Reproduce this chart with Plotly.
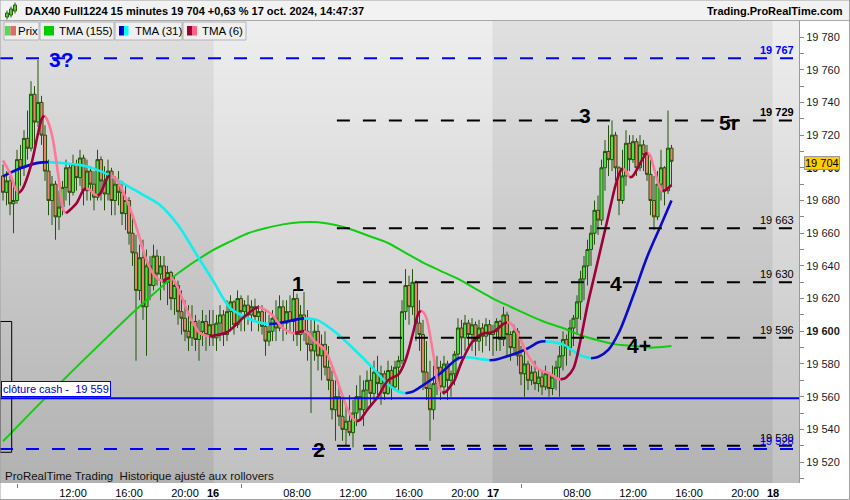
import plotly.graph_objects as go

# ---------------- data ----------------
# x = index of the 15-minute bar; 0 = first bar of 16 Oct (02:00), 80 bars per session (02:00-22:00)
bar_index = list(range(-60, 132))

opens = [
    19695, 19685, 19692, 19678, 19680, 19705, 19700, 19718, 19712, 19745,
    19728, 19740, 19720, 19698, 19680, 19690, 19670, 19676, 19688, 19700,
    19685, 19702, 19694, 19706, 19686, 19698, 19690, 19682, 19705, 19692,
    19684, 19698, 19680, 19690, 19685, 19672, 19680, 19660, 19648, 19625,
    19645, 19615, 19640, 19628, 19646, 19635, 19640, 19630, 19636, 19620,
    19628, 19612, 19608, 19600, 19596, 19606, 19595, 19600, 19606, 19598,
    19604, 19596, 19605, 19610, 19598, 19612, 19618, 19604, 19620, 19612,
    19616, 19610, 19615, 19609, 19612, 19603, 19594, 19600, 19608, 19602,
    19615, 19605, 19612, 19606, 19620, 19598, 19610, 19600, 19592, 19588,
    19600, 19585, 19592, 19578, 19570, 19552, 19560, 19548, 19540, 19545,
    19538, 19550, 19560, 19552, 19564, 19570, 19562, 19575, 19568, 19574,
    19562, 19576, 19566, 19578, 19582, 19612, 19628, 19615, 19630, 19605,
    19598, 19575, 19565, 19552, 19568, 19578, 19566, 19580, 19570, 19574,
    19586, 19602, 19596, 19605, 19598, 19604, 19594, 19602, 19597, 19604,
    19598, 19600, 19606, 19595, 19610, 19598, 19590, 19600, 19585, 19574,
    19580, 19570, 19575, 19568, 19572, 19566, 19574, 19565, 19572, 19578,
    19585, 19595, 19590, 19602, 19608, 19618, 19632, 19640, 19650, 19660,
    19674, 19668, 19700, 19710, 19705, 19720, 19700, 19680, 19695, 19715,
    19705, 19716, 19700, 19714, 19708, 19696, 19680, 19670, 19690, 19700,
    19686, 19712,
]
highs = [
    19702, 19698, 19695, 19689, 19711, 19714, 19723, 19735, 19753, 19750,
    19766, 19744, 19726, 19705, 19695, 19692, 19686, 19692, 19705, 19703,
    19708, 19705, 19711, 19708, 19705, 19701, 19698, 19711, 19707, 19701,
    19705, 19700, 19695, 19698, 19692, 19689, 19682, 19671, 19659, 19653,
    19656, 19650, 19646, 19653, 19650, 19646, 19646, 19640, 19637, 19634,
    19631, 19625, 19619, 19616, 19616, 19610, 19607, 19613, 19610, 19613,
    19613, 19610, 19616, 19613, 19619, 19622, 19619, 19625, 19622, 19619,
    19622, 19619, 19620, 19616, 19616, 19613, 19610, 19613, 19619, 19622,
    19619, 19619, 19622, 19625, 19623, 19616, 19624, 19613, 19607, 19607,
    19604, 19598, 19600, 19591, 19576, 19570, 19567, 19561, 19555, 19561,
    19558, 19567, 19573, 19570, 19576, 19579, 19582, 19585, 19579, 19576,
    19582, 19579, 19582, 19585, 19619, 19638, 19634, 19638, 19631, 19619,
    19607, 19594, 19582, 19579, 19585, 19582, 19585, 19582, 19576, 19588,
    19608, 19607, 19610, 19607, 19608, 19606, 19607, 19605, 19608, 19607,
    19604, 19608, 19607, 19615, 19612, 19600, 19604, 19602, 19591, 19588,
    19582, 19579, 19582, 19577, 19576, 19579, 19575, 19579, 19582, 19591,
    19600, 19598, 19607, 19610, 19622, 19637, 19646, 19656, 19665, 19680,
    19683, 19705, 19717, 19726, 19729, 19722, 19701, 19711, 19723, 19720,
    19720, 19718, 19720, 19717, 19714, 19705, 19695, 19698, 19711, 19701,
    19735, 19714,
]
lows = [
    19680, 19677, 19671, 19660, 19678, 19689, 19695, 19705, 19710, 19711,
    19725, 19714, 19692, 19671, 19665, 19656, 19662, 19671, 19680, 19677,
    19683, 19686, 19689, 19677, 19680, 19680, 19674, 19680, 19680, 19674,
    19680, 19671, 19671, 19677, 19665, 19662, 19653, 19640, 19582, 19619,
    19607, 19585, 19619, 19625, 19628, 19619, 19625, 19616, 19613, 19610,
    19604, 19598, 19594, 19588, 19591, 19588, 19582, 19591, 19588, 19591,
    19591, 19588, 19594, 19591, 19594, 19600, 19598, 19602, 19600, 19600,
    19604, 19600, 19607, 19600, 19598, 19585, 19591, 19594, 19594, 19600,
    19594, 19598, 19600, 19594, 19591, 19588, 19594, 19582, 19550, 19582,
    19576, 19570, 19573, 19564, 19546, 19533, 19542, 19533, 19530, 19536,
    19529, 19542, 19546, 19542, 19552, 19555, 19558, 19561, 19555, 19558,
    19561, 19558, 19564, 19564, 19580, 19607, 19604, 19610, 19594, 19588,
    19564, 19558, 19533, 19546, 19561, 19558, 19561, 19558, 19560, 19567,
    19582, 19585, 19588, 19591, 19588, 19585, 19588, 19587, 19591, 19588,
    19585, 19588, 19588, 19591, 19585, 19582, 19585, 19579, 19567, 19560,
    19564, 19567, 19564, 19563, 19561, 19564, 19560, 19561, 19564, 19560,
    19576, 19579, 19585, 19591, 19598, 19607, 19619, 19628, 19640, 19653,
    19659, 19665, 19686, 19695, 19698, 19692, 19671, 19678, 19689, 19698,
    19703, 19695, 19698, 19698, 19692, 19671, 19662, 19668, 19680, 19677,
    19684, 19689,
]
closes = [
    19685, 19692, 19678, 19680, 19705, 19700, 19718, 19712, 19745, 19728,
    19740, 19720, 19698, 19680, 19690, 19670, 19676, 19688, 19700, 19685,
    19702, 19694, 19706, 19686, 19698, 19690, 19682, 19705, 19692, 19684,
    19698, 19680, 19690, 19685, 19672, 19680, 19660, 19648, 19625, 19645,
    19615, 19640, 19628, 19646, 19635, 19640, 19630, 19636, 19620, 19628,
    19612, 19608, 19600, 19596, 19606, 19595, 19600, 19606, 19598, 19604,
    19596, 19605, 19610, 19598, 19612, 19618, 19604, 19620, 19612, 19616,
    19610, 19615, 19609, 19612, 19603, 19594, 19600, 19608, 19602, 19615,
    19605, 19612, 19606, 19620, 19598, 19610, 19600, 19592, 19588, 19600,
    19585, 19592, 19578, 19570, 19552, 19560, 19548, 19540, 19545, 19538,
    19550, 19560, 19552, 19564, 19570, 19562, 19575, 19568, 19574, 19562,
    19576, 19566, 19578, 19582, 19612, 19628, 19615, 19630, 19605, 19598,
    19575, 19565, 19552, 19568, 19578, 19566, 19580, 19570, 19574, 19586,
    19602, 19596, 19605, 19598, 19604, 19594, 19602, 19597, 19604, 19598,
    19600, 19606, 19595, 19610, 19598, 19590, 19600, 19585, 19574, 19580,
    19570, 19575, 19568, 19572, 19566, 19574, 19565, 19572, 19578, 19585,
    19595, 19590, 19602, 19608, 19618, 19632, 19640, 19650, 19660, 19674,
    19668, 19700, 19710, 19705, 19720, 19700, 19680, 19695, 19715, 19705,
    19716, 19700, 19714, 19708, 19696, 19680, 19670, 19690, 19700, 19686,
    19712, 19704,
]

# moving averages (bar index, value)
tma155_x = [-60, -50, -40, -30, -20, -10, 0, 5, 10, 15, 20, 25, 30, 35, 40, 45, 50, 55,
            60, 65, 70, 75, 80, 85, 90, 95, 100, 105, 110, 115, 120, 125, 131]
tma155_y = [19532.7, 19554.7, 19576.1, 19596.9, 19617.1, 19635.5, 19649.6, 19655, 19660,
            19663, 19665.4, 19666.7, 19666.7, 19665, 19662, 19658, 19654, 19648, 19642,
            19637, 19632, 19626, 19620, 19615, 19610, 19605.5, 19602, 19597.6, 19594.5,
            19592, 19591, 19590, 19591]

tma31_x = [-60, -55, -50, -47, -44, -40, -36, -32, -28, -24, -20, -15, -10, -5, 0, 5, 10, 12,
           14, 16, 18, 20, 24, 26, 28, 30, 35, 40, 45, 50, 53, 55, 57, 60, 65, 70, 72, 74,
           77, 79, 81, 85, 90, 93, 95, 97, 100, 105, 108, 110, 113, 116, 120, 124, 128, 131]
tma31_y = [19694.8, 19699.7, 19703.0, 19703.5, 19703.1, 19702.2, 19700.8, 19697.8, 19693.5,
           19688.4, 19683.5, 19677, 19665, 19648, 19631, 19614, 19608, 19606.2, 19605.0,
           19604.4, 19604.8, 19605.5, 19607.3, 19607.9, 19607.6, 19606.7, 19599.4, 19589.6,
           19579, 19567.6, 19563.2, 19562.1, 19563.0, 19567, 19574.3, 19583.4, 19584.1,
           19583.8, 19582.8, 19582.3, 19582.8, 19585.3, 19589.6, 19593.3, 19593.9, 19593.4,
           19592, 19585.3, 19583.5, 19584.3, 19588.8, 19599.4, 19621.4, 19645.3, 19665,
           19680]

tma6_x = [-60, -58, -56.5, -55.5, -54.5, -52, -50, -49, -48.3, -47.5, -46, -44, -42.7, -42,
          -41.2, -39, -37, -36.3, -35.5, -33.7, -33, -32.3, -30, -29.3, -28.5, -27, -25, -23,
          -21, -19, -17, -15.5, -14.3, -13, -12.3, -11.5, -10, -7, -4, -2, -1, 0, 4, 9, 12,
          13, 14, 17, 20, 22.5, 23.5, 25, 26, 27, 29, 32, 35, 38, 40, 41, 42, 44, 47, 50,
          53, 55, 57, 58.5, 59.3, 60.2, 61, 63, 64.5, 65.5, 66.5, 68, 69, 71, 74, 77, 80,
          83, 84, 85, 87, 90, 93, 96, 98.5, 99.3, 100.2, 101, 103, 105, 107, 109, 111, 113,
          115, 116.3, 117, 117.8, 119, 119.8, 121, 123, 124, 124.8, 126, 127.5, 128.4, 129.2,
          130, 131]
tma6_y = [19704.6, 19696.6, 19687.5, 19684.6, 19686.8, 19701.5, 19721, 19729.5, 19732,
          19730, 19720, 19692.4, 19674, 19672.2, 19673.6, 19678.3, 19686.5, 19687.5, 19687,
          19683.6, 19683.2, 19684, 19694.5, 19695.4, 19694.6, 19691, 19682, 19671, 19657.5,
          19643.4, 19635, 19631.6, 19631.0, 19632.3, 19632.6, 19632.0, 19626.3, 19611,
          19599.4, 19597.3, 19597.0, 19597.3, 19599.4, 19609, 19614, 19614.7, 19614.2,
          19609.8, 19601.8, 19599, 19598.8, 19599.8, 19600, 19599.2, 19594, 19588.4, 19573,
          19554.7, 19546.5, 19545, 19545.8, 19551.7, 19559.6, 19570, 19573.7, 19582.3,
          19597.6, 19610, 19612.8, 19611.5, 19608, 19585.3, 19566, 19562.5, 19563, 19567,
          19570, 19581, 19593.3, 19598.5, 19599.5, 19604.5, 19605.5, 19605, 19598.8,
          19585.3, 19576.8, 19574.3, 19571, 19570.6, 19571, 19571.9, 19577.4, 19594.5,
          19616, 19634.3, 19652.6, 19671, 19689.3, 19697.5, 19699.7, 19698.5, 19694.2,
          19694.6, 19698.5, 19706.4, 19709.5, 19708, 19699.7, 19689, 19685.6, 19686.2,
          19687.5, 19689.3]

session_bounds = [-61, 0, 80, 160, 168]   # 15 Oct | 16 Oct | 17 Oct | 18 Oct

x_tick_pos = [-40, -24, -8, 0, 24, 40, 56, 72, 80, 104, 120, 136, 152, 160]
x_tick_text = ['12:00', '16:00', '20:00', '<b>16</b>', '08:00', '12:00', '16:00', '20:00',
               '<b>17</b>', '08:00', '12:00', '16:00', '20:00', '<b>18</b>']
x_minor_ticks = [-56, 8, 88, 168]

y_ticks = list(range(19520, 19781, 20))
y_tick_text = ['<b>19 %03d</b>' % (v - 19000) if v % 100 == 0 else '19 %03d' % (v - 19000)
               for v in y_ticks]

levels_black = [19729, 19663, 19630, 19596, 19530]
levels_blue = [19767, 19528]
level_start = 35.4
level_end = 166.4
cash_close = 19559
last_price = 19704

wave_text = ['3?', '1', '2', '3', '5r', '4', '4+']
wave_x = [-43.4, 24.3, 30.3, 106.3, 147.4, 115.1, 121.7]
wave_y = [19766, 19629.4, 19528, 19732, 19728, 19629.4, 19591.4]

# ---------------- styling helpers ----------------
FONT = 'Liberation Sans, Arial, sans-serif'
X_MIN, X_MAX = -60.86, 167.43
Y_MIN, Y_MAX = 19507.2, 19789.8
PL, PR, PT, PB = 0, 799, 21, 483


def px(x):
    return (x - PL) / (PR - PL)


def py(y):
    return (PB - y) / (PB - PT)


def slope_runs(xs, ys):
    up_x, up_y, dn_x, dn_y = [], [], [], []
    n = len(xs)
    k = 1
    while k < n:
        rising = ys[k] > ys[k - 1]
        j = k
        while j + 1 < n and (ys[j + 1] > ys[j]) == rising:
            j += 1
        sx = list(xs[k - 1:j + 1])
        sy = list(ys[k - 1:j + 1])
        if rising:
            up_x += sx + [None]
            up_y += sy + [None]
        else:
            dn_x += sx + [None]
            dn_y += sy + [None]
        k = j + 1
    return up_x, up_y, dn_x, dn_y


fig = go.Figure()

# session background bands (vertical grey gradient) drawn as a heatmap so it stays below the candles
N_ROWS = 154
row_edges = [Y_MIN + (Y_MAX - Y_MIN) * r / N_ROWS for r in range(N_ROWS + 1)]
bg_z = []
for r in range(N_ROWS):
    t = (r + 0.5) / N_ROWS
    bg_z.append([(k % 2) + t * 0.999 for k in range(len(session_bounds) - 1)])
fig.add_trace(go.Heatmap(
    x=session_bounds, y=row_edges, z=bg_z, zmin=0, zmax=2, zsmooth=False,
    colorscale=[[0, '#b2b2b2'], [0.5, '#e0e0e0'], [0.5, '#c0c0c0'], [1, '#eeeeee']],
    showscale=False, hoverinfo='skip'))

fig.add_trace(go.Candlestick(
    x=bar_index, open=opens, high=highs, low=lows, close=closes,
    increasing=dict(line=dict(color='#25520c', width=1), fillcolor='#4fe04a'),
    decreasing=dict(line=dict(color='#25520c', width=1), fillcolor='#e8826c'),
    whiskerwidth=0, hoverinfo='skip', showlegend=False))

fig.add_trace(go.Scatter(x=tma155_x, y=tma155_y, mode='lines',
                         line=dict(color='#11cc11', width=2, shape='spline', smoothing=0.8),
                         hoverinfo='skip', showlegend=False))

for xs, ys, up_col, dn_col in [(tma31_x, tma31_y, '#0a0acc', '#11eeee'),
                               (tma6_x, tma6_y, '#a0003a', '#ff7799')]:
    ux, uy, dx, dy = slope_runs(xs, ys)
    fig.add_trace(go.Scatter(x=dx, y=dy, mode='lines',
                             line=dict(color=dn_col, width=2.6, shape='spline', smoothing=0.9),
                             hoverinfo='skip', showlegend=False))
    fig.add_trace(go.Scatter(x=ux, y=uy, mode='lines',
                             line=dict(color=up_col, width=2.6, shape='spline', smoothing=0.9),
                             hoverinfo='skip', showlegend=False))

shapes = []
annotations = []

# horizontal levels
for v in levels_blue:
    shapes.append(dict(type='line', xref='x', yref='y', x0=X_MIN, x1=level_end, y0=v, y1=v,
                       line=dict(color='#0000ff', width=2, dash='13px,13px')))
for v in levels_black:
    shapes.append(dict(type='line', xref='x', yref='y', x0=level_start, x1=level_end, y0=v, y1=v,
                       line=dict(color='#000000', width=2, dash='13px,13px')))
for v in levels_black:
    t = '19 %03d' % (v - 19000)
    if v == max(levels_black):
        t = '<b>' + t + '</b>'
    annotations.append(dict(x=166.6, y=v, xref='x', yref='y', text=t, showarrow=False,
                            xanchor='right', yanchor='bottom', yshift=0,
                            font=dict(family=FONT, size=11, color='#000000')))
for v in levels_blue:
    t = '19 %03d' % (v - 19000)
    if v == max(levels_blue):
        t = '<b>' + t + '</b>'
    annotations.append(dict(x=166.6, y=v, xref='x', yref='y', text=t, showarrow=False,
                            xanchor='right', yanchor='bottom', yshift=0,
                            font=dict(family=FONT, size=11, color='#0000ff')))

# cash close line
shapes.append(dict(type='line', xref='paper', yref='y', x0=0, x1=1, y0=cash_close, y1=cash_close,
                   line=dict(color='#0000ff', width=2)))
annotations.append(dict(x=px(1), y=cash_close, xref='paper', yref='y',
                        text='clôture cash -\u00a0\u00a019 %03d' % (cash_close - 19000),
                        showarrow=False, xanchor='left', yanchor='bottom', yshift=1,
                        bgcolor='#ffffff', bordercolor='#0000ff', borderwidth=1, borderpad=1,
                        font=dict(family=FONT, size=11, color='#0000cc')))

# small box at left edge
shapes.append(dict(type='rect', xref='paper', yref='y', x0=0, x1=px(11.7),
                   y0=19526, y1=19606, line=dict(color='#000000', width=1)))

# wave labels
for t, x, y in zip(wave_text, wave_x, wave_y):
    col = '#0000ff' if '?' in t else '#000000'
    annotations.append(dict(x=x, y=y, xref='x', yref='y', text='<b>%s</b>' % t, showarrow=False,
                            xanchor='center', yanchor='middle',
                            font=dict(family=FONT, size=21, color=col)))

# last price tag on axis
annotations.append(dict(x=px(804), y=last_price, xref='paper', yref='y',
                        text='19 %03d' % (last_price - 19000), showarrow=False,
                        xanchor='left', yanchor='middle', yshift=-2,
                        bgcolor='#ffcc00', bordercolor='#999999', borderwidth=1, borderpad=0,
                        font=dict(family=FONT, size=11, color='#000000')))

# header bar
shapes.append(dict(type='rect', xref='paper', yref='paper', x0=px(0), x1=px(850),
                   y0=py(20.5), y1=py(0), fillcolor='#f2f2f2', line=dict(width=0), layer='above'))
shapes.append(dict(type='line', xref='paper', yref='paper', x0=px(0), x1=px(850),
                   y0=py(20.5), y1=py(20.5), line=dict(color='#a8a8a8', width=1)))
# header icon (three small candles)
for cx, top, bot in [(7, 12, 18), (11, 8, 16), (15, 4, 12)]:
    shapes.append(dict(type='line', xref='paper', yref='paper', x0=px(cx), x1=px(cx),
                       y0=py(bot + 1.5), y1=py(top - 1.5), line=dict(color='#2b5c10', width=1)))
    shapes.append(dict(type='rect', xref='paper', yref='paper', x0=px(cx - 1.5), x1=px(cx + 1.5),
                       y0=py(bot - 1), y1=py(top + 1), fillcolor='#55cc33',
                       line=dict(color='#2b5c10', width=1)))
annotations.append(dict(x=px(23), y=py(11), xref='paper', yref='paper',
                        text='<b>DAX40 Full1224 15 minutes 19 704 +0,63 % 17 oct. 2024, 14:47:37</b>',
                        showarrow=False, xanchor='left', yanchor='middle',
                        font=dict(family=FONT, size=11, color='#000000')))
annotations.append(dict(x=px(845), y=py(11), xref='paper', yref='paper',
                        text='<b>Trading.ProRealTime.com</b>', showarrow=False,
                        xanchor='right', yanchor='middle',
                        font=dict(family=FONT, size=11, color='#000000')))

# legend row
legend_items = [
    (4, 39, [('#55d955', 5, 10.5), ('#e06a6a', 10.5, 16)], 'Prix', 16),
    (40, 114, [('#00cc00', 44, 54)], 'TMA (155)', 57),
    (115, 182, [('#0000cc', 119, 124), ('#00ffff', 124, 128.5)], 'TMA (31)', 133),
    (183, 246, [('#990033', 187, 192), ('#ff6688', 192, 197)], 'TMA (6)', 200),
]
for bx0, bx1, sw, label, tx in legend_items:
    shapes.append(dict(type='rect', xref='paper', yref='paper', x0=px(bx0), x1=px(bx1),
                       y0=py(40), y1=py(22), fillcolor='#efefef',
                       line=dict(color='#b4b4b4', width=1)))
    annotations.append(dict(x=px(tx), y=py(31), xref='paper', yref='paper', text=label,
                            showarrow=False, xanchor='left', yanchor='middle',
                            font=dict(family=FONT, size=11.5, color='#000000')))
    for col, s0, s1 in sw:
        shapes.append(dict(type='rect', xref='paper', yref='paper', x0=px(s0), x1=px(s1),
                           y0=py(35.5), y1=py(26), fillcolor=col, line=dict(width=0)))

# footer text inside plot
annotations.append(dict(x=px(3), y=py(476), xref='paper', yref='paper',
                        text='ProRealTime Trading\u00a0 Historique ajusté aux rollovers',
                        showarrow=False, xanchor='left', yanchor='middle',
                        font=dict(family=FONT, size=11.5, color='#111111')))

# outer frame
shapes.append(dict(type='rect', xref='paper', yref='paper', x0=px(0), x1=px(849.5),
                   y0=py(499.5), y1=py(0), line=dict(color='#a0a0a0', width=1)))

fig.update_layout(
    width=850, height=500, autosize=False,
    margin=dict(l=0, r=51, t=21, b=17, pad=0, autoexpand=False),
    paper_bgcolor='#ffffff', plot_bgcolor='#d0d0d0',
    showlegend=False, hovermode=False,
    boxgap=0.12, boxgroupgap=0,
    font=dict(family=FONT, size=11, color='#000000'),
    shapes=shapes, annotations=annotations,
    xaxis=dict(range=[X_MIN, X_MAX], showgrid=False, zeroline=False, showline=False,
               automargin=False, ticklabelstandoff=2,
               tickmode='array', tickvals=x_tick_pos, ticktext=x_tick_text, ticks='',
               tickfont=dict(family=FONT, size=11, color='#000000'),
               rangeslider=dict(visible=False), fixedrange=True,
               minor=dict(tickmode='array', tickvals=x_minor_ticks, ticks='outside',
                          ticklen=4, tickcolor='#777777')),
    yaxis=dict(range=[Y_MIN, Y_MAX], side='right', showgrid=False, zeroline=False,
               automargin=False,
               showline=True, linecolor='#999999', linewidth=1,
               tickmode='array', tickvals=y_ticks, ticktext=y_tick_text,
               ticks='outside', ticklen=4, tickcolor='#888888',
               tickfont=dict(family=FONT, size=11, color='#1a1a1a'),
               minor=dict(tickmode='array', tickvals=list(range(19510, 19790, 20)),
                          ticks='outside', ticklen=4, tickcolor='#888888'),
               fixedrange=True),
)

# page body has a default 8px margin; remove it so the 850x500 figure fills the window
fig.write_html('out.html', config=dict(displayModeBar=False),
               post_script="document.body.style.margin='0';document.body.style.padding='0';")
